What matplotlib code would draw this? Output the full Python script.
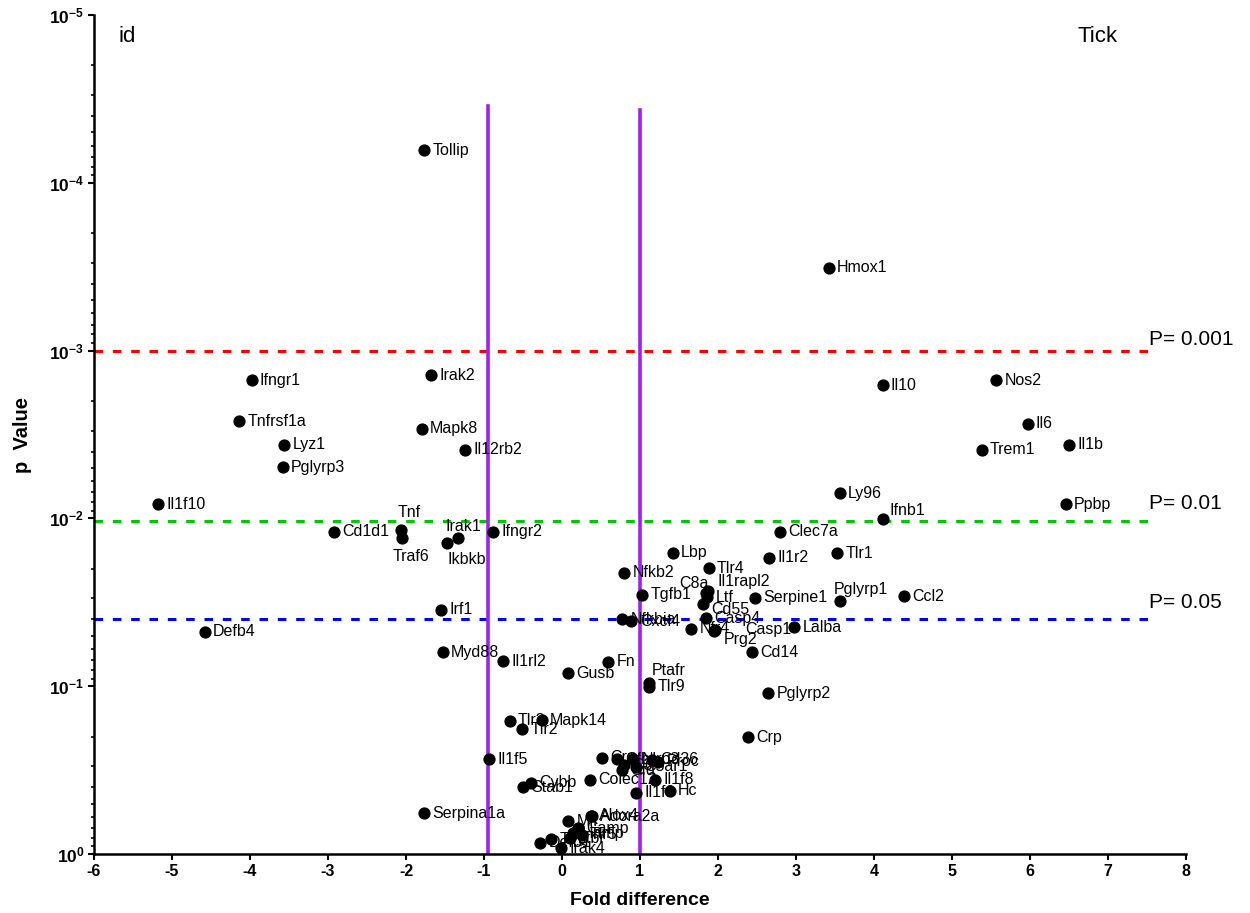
import numpy as np
import matplotlib
matplotlib.use('Agg')
import matplotlib.pyplot as plt

plt.rcParams['font.family'] = 'Liberation Sans'
plt.rcParams['mathtext.fontset'] = 'custom'
plt.rcParams['mathtext.rm'] = 'Liberation Sans'
plt.rcParams['mathtext.bf'] = 'Liberation Sans:bold'

# gene, fold difference, p value
genes = ['Tollip', 'Hmox1', 'Ifngr1', 'Irak2', 'Il10', 'Nos2', 'Tnfrsf1a', 'Mapk8',
         'Lyz1', 'Il12rb2', 'Pglyrp3', 'Il6', 'Trem1', 'Il1b', 'Ly96', 'Ppbp',
         'Il1f10', 'Ifnb1', 'Cd1d1', 'Tnf', 'Traf6', 'Irak1', 'Ikbkb', 'Ifngr2',
         'Clec7a', 'Lbp', 'Tlr1', 'Il1r2', 'Tlr4', 'Nfkb2', 'Tgfb1', 'C8a',
         'Il1rapl2', 'Ltf', 'Serpine1', 'Pglyrp1', 'Ccl2', 'Cd55', 'Irf1', 'Nfkbia',
         'Cxcl4', 'Casp4', 'Lalba', 'Nfr4', 'Prg2', 'Casp1', 'Defb4', 'Cd14',
         'Myd88', 'Fn', 'Il1rl2', 'Gusb', 'Ptafr', 'Tlr9', 'Pglyrp2', 'Tlr3',
         'Mapk14', 'Tlr2', 'Crp', 'Il1f5', 'Crry', 'Cfb', 'C3', 'Cfd', 'Nlrp3',
         'C5ar1', 'Cd36', 'Proc', 'Colec12', 'Il1f8', 'Il1f6', 'Hc', 'Cybb', 'Stab1',
         'Serpina1a', 'Adora2a', 'Alox4', 'Mif', 'Camp', 'Hamp', 'Tlr5', 'Ltbr',
         'Tlr6', 'Defb1', 'Irak4']
fold = [-1.77, 3.42, -3.98, -1.68, 4.11, 5.57, -4.14, -1.80,
        -3.56, -1.24, -3.58, 5.97, 5.38, 6.50, 3.56, 6.46,
        -5.18, 4.11, -2.92, -2.07, -2.05, -1.33, -1.47, -0.88,
        2.79, 1.42, 3.53, 2.66, 1.88, 0.80, 1.03, 1.84,
        1.87, 1.86, 2.47, 3.56, 4.38, 1.81, -1.55, 0.77,
        0.89, 1.85, 2.98, 1.66, 1.95, 1.96, -4.58, 2.44,
        -1.53, 0.59, -0.76, 0.08, 1.11, 1.12, 2.64, -0.67,
        -0.26, -0.51, 2.38, -0.93, 0.51, 0.70, 0.80, 0.77, 0.91,
        0.95, 1.15, 1.23, 0.36, 1.19, 0.95, 1.38, -0.40, -0.50,
        -1.77, 0.38, 0.37, 0.08, 0.21, 0.14, 0.25, 0.10,
        -0.14, -0.28, -0.01]
pval = [6.4e-5, 3.2e-4, 1.5e-3, 1.4e-3, 1.61e-3, 1.50e-3, 2.63e-3, 2.92e-3,
        3.64e-3, 3.91e-3, 4.94e-3, 2.73e-3, 3.9e-3, 3.65e-3, 7.06e-3, 8.24e-3,
        8.24e-3, 0.0101, 0.0120, 0.0118, 0.0131, 0.0131, 0.0140, 0.0120,
        0.0120, 0.0160, 0.0161, 0.0171, 0.0198, 0.0211, 0.0285, 0.0279,
        0.0270, 0.0295, 0.0297, 0.0310, 0.0291, 0.0324, 0.0351, 0.0399,
        0.0409, 0.0394, 0.0444, 0.0454, 0.0467, 0.0460, 0.0475, 0.0628,
        0.0628, 0.0714, 0.0708, 0.0838, 0.0953, 0.1007, 0.110, 0.161,
        0.159, 0.181, 0.201, 0.272, 0.267, 0.272, 0.295, 0.316, 0.272,
        0.302, 0.275, 0.282, 0.362, 0.362, 0.431, 0.419, 0.376, 0.40,
        0.57, 0.594, 0.59, 0.636, 0.703, 0.753, 0.77, 0.806,
        0.817, 0.856, 0.925]

cutoffs = [0.001, 0.0103, 0.0398]
cutoff_labels = ['P= 0.001', 'P= 0.01', 'P= 0.05']
cutoff_colors = ['#ff0000', '#00c800', '#0000ff']
fold_lines = [-0.95, 1.0]

# label offsets in points (dx, dy) where the label is not simply to the right
offsets = {'Tnf': (-2, 13), 'Traf6': (-7, -13), 'Ikbkb': (0, -12), 'Irak1': (-9, 8),
           'Ifnb1': (5, 6), 'Pglyrp1': (-4, 8), 'Ptafr': (2, 9), 'C8a': (-19, 7),
           'Il1rapl2': (7, 7), 'Cd55': (6, -4), 'Prg2': (7, -6), 'Casp1': (22, 0)}

fig = plt.figure(figsize=(12.5, 9.13), dpi=100)
ax = fig.add_axes([0.0752, 0.0646, 0.8736, 0.919])

for c, col in zip(cutoffs, cutoff_colors):
    ax.plot([-6, 7.55], [c, c], color=col, lw=2.2, linestyle=(0, (2.8, 3.2)), zorder=1)
for fl, top in zip(fold_lines, [3.5e-5, 3.7e-5]):
    ax.plot([fl, fl], [1, top], color='#a020f0', lw=2.6, zorder=1)

ax.plot(fold, pval, 'o', color='black', ms=7.8, zorder=3)
for g, x, y in zip(genes, fold, pval):
    dx, dy = offsets.get(g, (6, 0))
    ax.annotate(g, (x, y), xytext=(dx, dy), textcoords='offset points',
                va='center', ha='left', fontsize=11.5, zorder=4)

for c, lab, dy in zip(cutoffs, cutoff_labels, [8, 12, 12]):
    ax.annotate(lab, (7.52, c), xytext=(0, dy), textcoords='offset points',
                va='center', ha='left', fontsize=15, annotation_clip=False)

ax.set_yscale('log')
ax.set_ylim(1, 1e-5)
ax.set_xlim(-6, 8)
ax.set_xticks(range(-6, 9))
ax.set_xticklabels([str(i) for i in range(-6, 9)], fontweight='bold', fontsize=11.5)
ax.set_yticks([1, 1e-1, 1e-2, 1e-3, 1e-4, 1e-5])
ax.set_yticklabels([r'$\mathbf{10^{%d}}$' % e for e in [0, -1, -2, -3, -4, -5]], fontsize=12.5)

for s in ['top', 'right']:
    ax.spines[s].set_visible(False)
for s in ['left', 'bottom']:
    ax.spines[s].set_linewidth(1.8)
ax.tick_params(which='major', length=4, width=1.5, direction='out', pad=3)
ax.tick_params(which='minor', length=2.5, width=1.2, direction='out')

fig.text(0.512, 1 - 900 / 913, 'Fold difference', ha='center', va='center',
         fontsize=14, fontweight='bold')
fig.text(22 / 1250, 1 - 435 / 913, 'p  Value', ha='center', va='center',
         rotation=90, fontsize=14.5, fontweight='bold')
fig.text(118 / 1250, 1 - 37 / 913, 'id', ha='left', va='center', fontsize=16)
fig.text(1078 / 1250, 1 - 37 / 913, 'Tick', ha='left', va='center', fontsize=16)

fig.savefig('out.png', dpi=100)
